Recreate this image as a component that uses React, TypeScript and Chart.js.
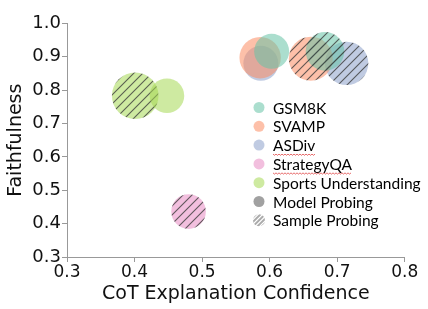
import React, { useEffect, useRef } from "react";
import { Chart, registerables } from "chart.js";

Chart.register(...registerables);

const CATEGORIES = ["GSM8K", "SVAMP", "ASDiv", "StrategyQA", "Sports Understanding"];
const COLORS = ["102,194,165", "252,141,98", "141,160,203", "231,138,195", "166,216,84"];

// Model Probing (solid)
const MODEL_X = [0.603, 0.586, 0.587, null, 0.448];
const MODEL_Y = [0.916, 0.897, 0.880, null, 0.783];
const MODEL_SIZE = [17.5, 20.7, 17.5, null, 17.3];

// Sample Probing (hatched)
const SAMPLE_X = [0.682, 0.661, 0.714, 0.48, 0.401];
const SAMPLE_Y = [0.916, 0.894, 0.88, 0.436, 0.783];
const SAMPLE_SIZE = [19.3, 22, 21.7, 17.3, 23.3];

const X_TICKS = [0.3, 0.4, 0.5, 0.6, 0.7, 0.8];
const Y_TICKS = [0.3, 0.4, 0.5, 0.6, 0.7, 0.8, 0.9, 1.0];

const LEGEND_ITEMS = [...CATEGORIES, "Model Probing", "Sample Probing"];
const ALPHA = 0.55;

function makeHatch(rgb: string): CanvasPattern | string {
  const s = 9;
  const c = document.createElement("canvas");
  c.width = s;
  c.height = s;
  const g = c.getContext("2d");
  if (!g) return `rgba(${rgb},${ALPHA})`;
  g.fillStyle = `rgba(${rgb},${ALPHA})`;
  g.fillRect(0, 0, s, s);
  g.strokeStyle = "rgba(60,60,60,0.8)";
  g.lineWidth = 1.1;
  g.beginPath();
  g.moveTo(-1, 1);
  g.lineTo(1, -1);
  g.moveTo(0, s);
  g.lineTo(s, 0);
  g.moveTo(s - 1, s + 1);
  g.lineTo(s + 1, s - 1);
  g.stroke();
  const p = g.createPattern(c, "repeat");
  return p || `rgba(${rgb},${ALPHA})`;
}

const legendPlugin = {
  id: "customLegend",
  afterDraw(chart: any) {
    const ctx = chart.ctx as CanvasRenderingContext2D;
    ctx.save();
    const mx = 259;
    const tx = 273;
    const y0 = 107.5;
    const step = 18.8;
    ctx.font = "15.5px Lato, 'Open Sans', sans-serif";
    ctx.textBaseline = "middle";
    LEGEND_ITEMS.forEach((label, i) => {
      const y = y0 + i * step;
      if (i < CATEGORIES.length) {
        ctx.fillStyle = `rgba(${COLORS[i]},${ALPHA})`;
        ctx.beginPath();
        ctx.arc(mx, y, 5.5, 0, Math.PI * 2);
        ctx.fill();
      } else if (label === "Model Probing") {
        ctx.fillStyle = "rgba(110,110,110,0.65)";
        ctx.beginPath();
        ctx.arc(mx, y, 5.5, 0, Math.PI * 2);
        ctx.fill();
      } else {
        ctx.save();
        ctx.beginPath();
        ctx.arc(mx, y, 6, 0, Math.PI * 2);
        ctx.clip();
        ctx.strokeStyle = "rgba(150,150,150,0.8)";
        ctx.lineWidth = 2;
        ctx.beginPath();
        for (let k = -2; k <= 2; k++) {
          const o = k * 4.5;
          ctx.moveTo(mx - 8 + o, y + 8);
          ctx.lineTo(mx + 8 + o, y - 8);
        }
        ctx.stroke();
        ctx.restore();
      }
      ctx.fillStyle = "#000";
      ctx.fillText(label, tx, y + 1);
      if (label === "ASDiv" || label === "StrategyQA") {
        const w = ctx.measureText(label).width;
        ctx.strokeStyle = "rgba(220,40,40,0.85)";
        ctx.lineWidth = 0.8;
        ctx.beginPath();
        const uy = y + 9;
        for (let x = tx; x <= tx + w; x += 1.5) {
          const yy = uy + (Math.floor((x - tx) / 1.5) % 2 === 0 ? 0 : 1.2);
          if (x === tx) ctx.moveTo(x, yy);
          else ctx.lineTo(x, yy);
        }
        ctx.stroke();
      }
    });
    ctx.restore();
  },
};

export default function App() {
  const ref = useRef<HTMLCanvasElement | null>(null);

  useEffect(() => {
    document.body.style.margin = "0";
    if (!ref.current) return;
    const datasets: any[] = [];
    CATEGORIES.forEach((cat, i) => {
      if (MODEL_X[i] !== null) {
        datasets.push({
          label: `${cat} (Model Probing)`,
          data: [{ x: MODEL_X[i], y: MODEL_Y[i], r: MODEL_SIZE[i] }],
          backgroundColor: `rgba(${COLORS[i]},${ALPHA})`,
          borderWidth: 0,
        });
      }
      if (SAMPLE_X[i] !== null) {
        datasets.push({
          label: `${cat} (Sample Probing)`,
          data: [{ x: SAMPLE_X[i], y: SAMPLE_Y[i], r: SAMPLE_SIZE[i] }],
          backgroundColor: makeHatch(COLORS[i]),
          borderWidth: 0,
        });
      }
    });

    const xTickFont = { family: "'DejaVu Sans', sans-serif", size: 17 };
    const yTickFont = { family: "'DejaVu Sans', sans-serif", size: 18 };
    const titleFont = { family: "'DejaVu Sans', sans-serif", size: 19 };

    const chart = new Chart(ref.current, {
      type: "bubble",
      data: { datasets },
      plugins: [legendPlugin],
      options: {
        animation: false,
        responsive: false,
        layout: { padding: { top: 13, right: 16, left: 0, bottom: 0 } },
        plugins: { legend: { display: false }, tooltip: { enabled: false } },
        scales: {
          x: {
            type: "linear",
            min: 0.3,
            max: 0.8,
            afterBuildTicks: (s: any) => {
              s.ticks = X_TICKS.map((v) => ({ value: v }));
            },
            afterFit: (s: any) => {
              s.height = 52;
            },
            ticks: {
              font: xTickFont,
              color: "#111",
              padding: 0,
              maxRotation: 0,
              autoSkip: false,
              callback: (v: any) => Number(v).toFixed(1),
            },
            grid: { drawOnChartArea: false, drawTicks: true, tickLength: 5, color: "#999" },
            border: { color: "#999", width: 1 },
            title: {
              display: true,
              text: "CoT Explanation Confidence",
              font: titleFont,
              color: "#111",
              padding: { top: 0, bottom: 4 },
            },
          },
          y: {
            type: "linear",
            min: 0.3,
            max: 1.0,
            afterBuildTicks: (s: any) => {
              s.ticks = Y_TICKS.map((v) => ({ value: v }));
            },
            afterFit: (s: any) => {
              s.width = 67;
            },
            ticks: {
              font: yTickFont,
              color: "#111",
              padding: 1,
              autoSkip: false,
              callback: (v: any) => Number(v).toFixed(1),
            },
            grid: { drawOnChartArea: false, drawTicks: true, tickLength: 5, color: "#999" },
            border: { color: "#999", width: 1 },
            title: {
              display: true,
              text: "Faithfulness",
              font: titleFont,
              color: "#111",
              padding: { top: 5, bottom: 0 },
            },
          },
        },
      },
    });
    return () => chart.destroy();
  }, []);

  return (
    <div style={{ width: 428, height: 309 }}>
      <canvas ref={ref} width={428} height={309} style={{ display: "block", width: 428, height: 309 }} />
    </div>
  );
}
